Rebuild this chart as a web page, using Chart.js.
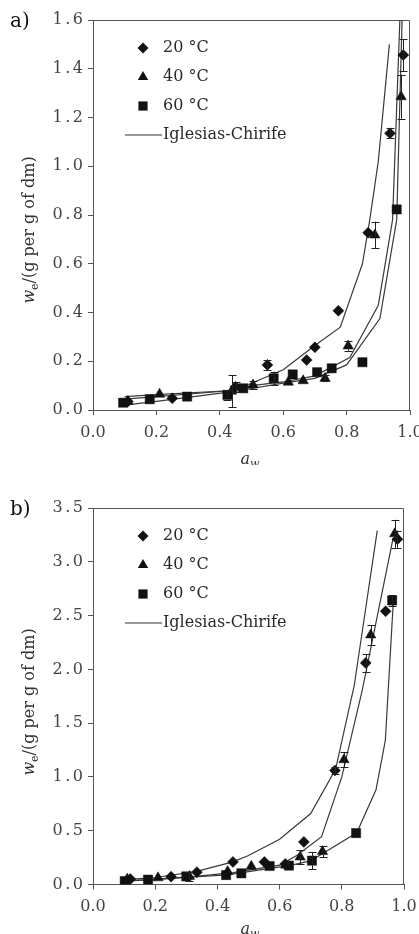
<!DOCTYPE html>
<html><head><meta charset="utf-8">
<script src="https://cdn.jsdelivr.net/npm/chart.js@4.4.1/dist/chart.umd.min.js"></script>
<style>
html,body{margin:0;padding:0;background:#fff;}
#wrap{position:relative;width:419px;height:934px;overflow:hidden;background:#fff;}
canvas{position:absolute;left:0;}
#ca{top:0;} #cb{top:465px;}
</style></head><body>
<div id="wrap"><canvas id="ca" width="419" height="465"></canvas><canvas id="cb" width="419" height="469"></canvas></div>
<script>
// ---------- labels / ticks ----------
const panelLabels = ['a)', 'b)'];
const legendLabels = ['20 °C', '40 °C', '60 °C', 'Iglesias-Chirife'];
const xTicks = [0, 0.2, 0.4, 0.6, 0.8, 1.0];
const yTicksA = [0, 0.2, 0.4, 0.6, 0.8, 1.0, 1.2, 1.4, 1.6];
const yTicksB = [0, 0.5, 1.0, 1.5, 2.0, 2.5, 3.0, 3.5];

// ---------- panel a : experimental ----------
const aw20A  = [0.11, 0.25, 0.45, 0.55, 0.674, 0.70, 0.774, 0.868, 0.937, 0.979];
const we20A  = [0.035, 0.048, 0.095, 0.185, 0.205, 0.257, 0.407, 0.727, 1.135, 1.456];
const err20A = [0, 0, 0.02, 0.022, 0, 0, 0, 0, 0.02, 0.065];

const aw40A  = [0.11, 0.21, 0.437, 0.505, 0.616, 0.663, 0.732, 0.805, 0.889, 0.972];
const we40A  = [0.035, 0.065, 0.077, 0.103, 0.114, 0.12, 0.13, 0.263, 0.718, 1.285];
const err40A = [0, 0, 0.066, 0.015, 0, 0, 0.012, 0.02, 0.055, 0.09];

const aw60A  = [0.095, 0.179, 0.297, 0.424, 0.474, 0.57, 0.63, 0.707, 0.753, 0.85, 0.958];
const we60A  = [0.03, 0.044, 0.055, 0.062, 0.089, 0.13, 0.146, 0.155, 0.171, 0.196, 0.823];
const err60A = [0, 0, 0, 0.02, 0, 0.027, 0, 0, 0, 0, 0];

// ---------- panel a : Iglesias-Chirife ----------
const icAw20A = [0.1, 0.2, 0.44, 0.5, 0.6, 0.7, 0.78, 0.85, 0.873, 0.90, 0.935];
const icWe20A = [0.055, 0.063, 0.08, 0.11, 0.165, 0.265, 0.34, 0.60, 0.78, 1.02, 1.50];
const icAw40A = [0.1, 0.2, 0.44, 0.5, 0.6, 0.7, 0.81, 0.90, 0.945, 0.968];
const icWe40A = [0.045, 0.055, 0.08, 0.10, 0.115, 0.14, 0.215, 0.43, 0.78, 1.6];
const icAw60A = [0.1, 0.2, 0.44, 0.6, 0.7, 0.8, 0.905, 0.958, 0.975];
const icWe60A = [0.02, 0.035, 0.075, 0.11, 0.13, 0.185, 0.375, 0.78, 1.6];

// ---------- panel b : experimental ----------
const aw20B  = [0.12, 0.251, 0.334, 0.45, 0.551, 0.618, 0.678, 0.778, 0.877, 0.941, 0.979];
const we20B  = [0.05, 0.073, 0.115, 0.21, 0.21, 0.19, 0.396, 1.06, 2.06, 2.54, 3.21];
const err20B = [0, 0, 0, 0, 0, 0, 0, 0.03, 0.08, 0, 0.08];

const aw40B  = [0.11, 0.209, 0.31, 0.433, 0.509, 0.62, 0.666, 0.738, 0.807, 0.893, 0.97];
const we40B  = [0.05, 0.062, 0.075, 0.12, 0.169, 0.18, 0.255, 0.306, 1.16, 2.32, 3.26];
const err40B = [0, 0, 0.04, 0, 0, 0, 0.065, 0.05, 0.07, 0.09, 0.13];

const aw60B  = [0.102, 0.177, 0.30, 0.428, 0.477, 0.568, 0.63, 0.704, 0.846, 0.962];
const we60B  = [0.031, 0.045, 0.075, 0.088, 0.104, 0.172, 0.176, 0.222, 0.478, 2.64];
const err60B = [0, 0, 0, 0, 0, 0, 0, 0.08, 0, 0.05];

// ---------- panel b : Iglesias-Chirife ----------
const icAw20B = [0.1, 0.2, 0.33, 0.45, 0.5, 0.6, 0.7, 0.78, 0.84, 0.914];
const icWe20B = [0.045, 0.065, 0.12, 0.21, 0.27, 0.42, 0.66, 1.07, 1.85, 3.29];
const icAw40B = [0.1, 0.2, 0.33, 0.45, 0.6, 0.655, 0.735, 0.8, 0.866, 0.965];
const icWe40B = [0.035, 0.05, 0.075, 0.11, 0.18, 0.27, 0.445, 1.0, 1.81, 3.22];
const icAw60B = [0.1, 0.2, 0.3, 0.43, 0.57, 0.63, 0.7, 0.74, 0.848, 0.91, 0.94, 0.966];
const icWe60B = [0.03, 0.045, 0.065, 0.09, 0.15, 0.175, 0.22, 0.29, 0.48, 0.88, 1.34, 2.65];

// ---------- rendering ----------
const FONT = "'DejaVu Serif', 'Liberation Serif', serif";
const zip = (xs, ys) => xs.map((x, i) => ({x: x, y: ys[i]}));

function markerPath(ctx, style, r, x, y) {
  ctx.beginPath();
  if (style === 'rectRot') {
    ctx.moveTo(x - r, y); ctx.lineTo(x, y - r); ctx.lineTo(x + r, y); ctx.lineTo(x, y + r);
  } else if (style === 'triangle') {
    let rad = 0;
    ctx.moveTo(x + Math.sin(rad) * r, y - Math.cos(rad) * r);
    rad += 2 * Math.PI / 3;
    ctx.lineTo(x + Math.sin(rad) * r, y - Math.cos(rad) * r);
    rad += 2 * Math.PI / 3;
    ctx.lineTo(x + Math.sin(rad) * r, y - Math.cos(rad) * r);
  } else {
    const s = Math.SQRT1_2 * r;
    ctx.rect(x - s, y - s, 2 * s, 2 * s);
  }
  ctx.closePath();
}

const STYLES = [['rectRot', 5.5], ['triangle', 6], ['rect', 6.5]];

const deco = {
  id: 'deco',
  beforeDatasetsDraw(chart) {
    const ctx = chart.ctx, c = chart.chartArea;
    ctx.save();
    ctx.strokeStyle = '#555'; ctx.lineWidth = 1;
    ctx.beginPath();
    ctx.moveTo(c.left, c.top + 0.5);
    ctx.lineTo(c.right - 0.5, c.top + 0.5);
    ctx.lineTo(c.right - 0.5, c.bottom);
    ctx.stroke();
    ctx.restore();
  },
  afterDatasetsDraw(chart) {
    const ctx = chart.ctx, xs = chart.scales.x, ys = chart.scales.y;
    ctx.save();
    ctx.strokeStyle = '#222'; ctx.lineWidth = 1;
    chart.data.datasets.forEach(ds => {
      if (!ds.errors) return;
      ds.data.forEach((p, i) => {
        const e = ds.errors[i];
        if (!e) return;
        const px = Math.round(xs.getPixelForValue(p.x)) + 0.5;
        const y1 = ys.getPixelForValue(p.y + e), y2 = ys.getPixelForValue(p.y - e);
        ctx.beginPath();
        ctx.moveTo(px, y1); ctx.lineTo(px, y2);
        ctx.moveTo(px - 4, Math.round(y1) + 0.5); ctx.lineTo(px + 4, Math.round(y1) + 0.5);
        ctx.moveTo(px - 4, Math.round(y2) + 0.5); ctx.lineTo(px + 4, Math.round(y2) + 0.5);
        ctx.stroke();
      });
    });
    ctx.restore();
  },
  afterDraw(chart, args, o) {
    const ctx = chart.ctx, c = chart.chartArea;
    ctx.save();
    ctx.fillStyle = '#111';
    // panel label
    ctx.font = '20px ' + FONT; ctx.textAlign = 'left'; ctx.textBaseline = 'alphabetic';
    ctx.fillText(o.panel, 10, c.top + 7);
    // legend
    const rows = [28, 57, 86, 115];
    ctx.textBaseline = 'middle'; ctx.font = '16px ' + FONT;
    for (let i = 0; i < 3; i++) {
      markerPath(ctx, STYLES[i][0], STYLES[i][1], c.left + 50, c.top + rows[i]);
      ctx.fillStyle = '#111'; ctx.fill();
      ctx.fillStyle = '#2a2a2a';
      ctx.fillText(legendLabels[i], c.left + 70, c.top + rows[i]);
    }
    ctx.strokeStyle = '#333'; ctx.lineWidth = 1.2;
    ctx.beginPath(); ctx.moveTo(c.left + 32, c.top + rows[3]); ctx.lineTo(c.left + 69, c.top + rows[3]); ctx.stroke();
    ctx.fillText(legendLabels[3], c.left + 70, c.top + rows[3]);
    // y title
    ctx.save();
    ctx.translate(34, o.yTitleCY);
    ctx.rotate(-Math.PI / 2);
    ctx.textBaseline = 'alphabetic'; ctx.fillStyle = '#333';
    const f1 = 'italic 16px ' + FONT, f2 = '11px ' + FONT, f3 = '16px ' + FONT;
    ctx.font = f1; const w1 = ctx.measureText('w').width;
    ctx.font = f2; const w2 = ctx.measureText('e').width;
    ctx.font = f3; const w3 = ctx.measureText('/(g per g of dm)').width;
    let x = -(w1 + w2 + w3) / 2;
    ctx.font = f1; ctx.fillText('w', x, 0); x += w1;
    ctx.font = f2; ctx.fillText('e', x, 3.5); x += w2;
    ctx.font = f3; ctx.fillText('/(g per g of dm)', x, 0);
    ctx.restore();
    // x title
    ctx.fillStyle = '#333'; ctx.textBaseline = 'alphabetic';
    ctx.font = 'italic 16px ' + FONT; const a1 = ctx.measureText('a').width;
    ctx.font = 'italic 11px ' + FONT; const a2 = ctx.measureText('w').width;
    let xx = 250 - (a1 + a2) / 2;
    ctx.font = 'italic 16px ' + FONT; ctx.fillText('a', xx, o.xTitleY);
    ctx.font = 'italic 11px ' + FONT; ctx.fillText('w', xx + a1, o.xTitleY + 3.5);
    ctx.restore();
  }
};

function spacing(scale, px) {
  if (scale._spPatched) return;
  const orig = scale.drawLabels;
  scale.drawLabels = function (area) {
    const ctx = this.ctx;
    const prev = ctx.letterSpacing;
    try { ctx.letterSpacing = px; } catch (e) {}
    orig.call(this, area);
    try { ctx.letterSpacing = prev || '0px'; } catch (e) {}
  };
  scale._spPatched = true;
}

function build(id, cfg) {
  const pts = (xs, ys, errs, k) => ({
    type: 'scatter', data: zip(xs, ys), errors: errs,
    pointStyle: STYLES[k][0], pointRadius: STYLES[k][1],
    backgroundColor: '#111', borderColor: '#111', borderWidth: 0.5, showLine: false
  });
  const line = (xs, ys) => ({
    type: 'scatter', data: zip(xs, ys), showLine: true, pointRadius: 0,
    borderColor: '#3a3a3a', borderWidth: 1.2, tension: 0, fill: false
  });
  const tickFont = {family: FONT, size: 16};
  const grid = {display: true, drawOnChartArea: false, drawTicks: true, tickLength: 5, color: '#555', lineWidth: 1};
  const border = {display: true, color: '#555', width: 1};
  return new Chart(document.getElementById(id), {
    type: 'scatter',
    data: {datasets: [
      pts(cfg.s[0][0], cfg.s[0][1], cfg.s[0][2], 0),
      pts(cfg.s[1][0], cfg.s[1][1], cfg.s[1][2], 1),
      pts(cfg.s[2][0], cfg.s[2][1], cfg.s[2][2], 2),
      line(cfg.l[0][0], cfg.l[0][1]),
      line(cfg.l[1][0], cfg.l[1][1]),
      line(cfg.l[2][0], cfg.l[2][1])
    ]},
    options: {
      responsive: false, animation: false, events: [],
      layout: {padding: {top: cfg.top, right: cfg.right, left: 0, bottom: 0}},
      plugins: {legend: {display: false}, tooltip: {enabled: false},
        deco: {panel: cfg.panel, yTitleCY: cfg.yTitleCY, xTitleY: cfg.xTitleY}},
      scales: {
        x: {type: 'linear', min: 0, max: 1,
          afterBuildTicks: s => { s.ticks = xTicks.map(v => ({value: v})); },
          afterFit: s => { s.height = cfg.xh; s.paddingLeft = 0; s.paddingRight = 0; },
          ticks: {callback: v => Number(v).toFixed(1), font: tickFont, color: '#444', padding: 8, maxRotation: 0, autoSkip: false},
          grid: grid, border: border},
        y: {type: 'linear', min: 0, max: cfg.ymax,
          afterBuildTicks: s => { s.ticks = cfg.yTicks.map(v => ({value: v})); },
          afterFit: s => { s.width = 93; s.paddingTop = 0; s.paddingBottom = 0; spacing(s, '2.5px'); },
          ticks: {callback: v => Number(v).toFixed(1), font: tickFont, color: '#444', padding: 2.5, autoSkip: false},
          grid: grid, border: border}
      }
    },
    plugins: [deco]
  });
}

build('ca', {
  panel: panelLabels[0], top: 20, right: 9, xh: 55, ymax: 1.6, yTicks: yTicksA,
  yTitleCY: 230, xTitleY: 463.5,
  s: [[aw20A, we20A, err20A], [aw40A, we40A, err40A], [aw60A, we60A, err60A]],
  l: [[icAw20A, icWe20A], [icAw40A, icWe40A], [icAw60A, icWe60A]]
});
build('cb', {
  panel: panelLabels[1], top: 43, right: 15, xh: 49.5, ymax: 3.5, yTicks: yTicksB,
  yTitleCY: 237, xTitleY: 468.5,
  s: [[aw20B, we20B, err20B], [aw40B, we40B, err40B], [aw60B, we60B, err60B]],
  l: [[icAw20B, icWe20B], [icAw40B, icWe40B], [icAw60B, icWe60B]]
});
</script>
</body></html>
